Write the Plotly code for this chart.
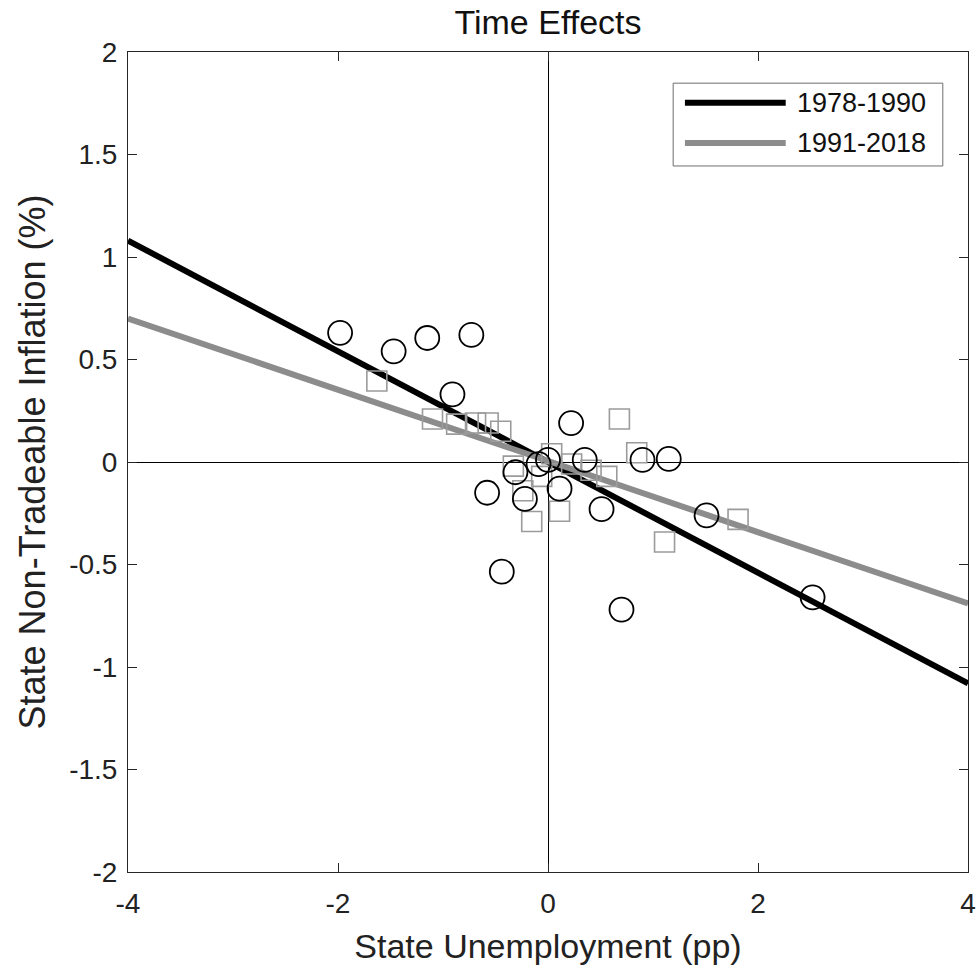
import plotly.graph_objects as go

# --- data ---
x_1978 = [-1.98, -1.47, -1.15, -0.73, -0.91, -0.58, -0.31, -0.22, -0.09, 0.00,
          0.11, 0.22, 0.35, 0.51, 0.90, 1.15, 1.51, 2.52, -0.44, 0.70]
y_1978 = [0.63, 0.54, 0.605, 0.62, 0.33, -0.15, -0.05, -0.18, -0.01, 0.01,
          -0.13, 0.19, 0.01, -0.23, 0.01, 0.015, -0.26, -0.66, -0.535, -0.72]

x_1991 = [-1.63, -1.10, -0.87, -0.69, -0.57, -0.45, -0.33, -0.24, -0.155, -0.06,
          0.035, 0.11, 0.225, 0.41, 0.56, 0.68, 0.845, 1.11, 1.81]
y_1991 = [0.395, 0.21, 0.185, 0.19, 0.19, 0.15, -0.02, -0.14, -0.29, -0.07,
          0.04, -0.24, -0.01, -0.04, -0.07, 0.21, 0.045, -0.39, -0.28]

fit_x = [-4, 4]
fit_y_1978 = [1.08, -1.08]
fit_y_1991 = [0.70, -0.69]

series_names = ["1978-1990", "1991-2018"]
x_ticks = [-4, -2, 0, 2, 4]
x_tick_text = ["-4", "-2", "0", "2", "4"]
y_ticks = [-2, -1.5, -1, -0.5, 0, 0.5, 1, 1.5, 2]
y_tick_text = ["-2", "-1.5", "-1", "-0.5", "0", "0.5", "1", "1.5", "2"]

BLACK = "#000000"
GRAY = "rgb(140,140,140)"
SQ_GRAY = "rgb(155,155,155)"
FONT = "Liberation Sans, Arial, Helvetica, sans-serif"

fig = go.Figure()

fig.add_trace(go.Scatter(x=fit_x, y=fit_y_1978, mode="lines",
                         line=dict(color=BLACK, width=6), name=series_names[0],
                         showlegend=False))
fig.add_trace(go.Scatter(x=fit_x, y=fit_y_1991, mode="lines",
                         line=dict(color=GRAY, width=6), name=series_names[1],
                         showlegend=False))
fig.add_trace(go.Scatter(x=x_1991, y=y_1991, mode="markers",
                         marker=dict(symbol="square-open", size=20,
                                     color=SQ_GRAY, line=dict(width=1.6, color=SQ_GRAY)),
                         showlegend=False))
fig.add_trace(go.Scatter(x=x_1978, y=y_1978, mode="markers",
                         marker=dict(symbol="circle-open", size=24,
                                     color=BLACK, line=dict(width=1.8, color=BLACK)),
                         showlegend=False))

# custom legend (box, line samples, labels)
legend_box = dict(x0=0.649, x1=0.970, y0=0.861, y1=0.962)
fig.add_shape(type="rect", xref="paper", yref="paper", **legend_box,
              line=dict(color="rgb(110,110,110)", width=1), fillcolor="white", layer="above")
fig.add_shape(type="line", xref="paper", yref="paper", x0=0.663, x1=0.783, y0=0.938, y1=0.938,
              line=dict(color=BLACK, width=6), layer="above")
fig.add_shape(type="line", xref="paper", yref="paper", x0=0.663, x1=0.783, y0=0.889, y1=0.889,
              line=dict(color=GRAY, width=6), layer="above")
for name, yy in zip(series_names, [0.938, 0.889]):
    fig.add_annotation(xref="paper", yref="paper", x=0.794, y=yy, text=name,
                       showarrow=False, xanchor="left", yanchor="middle",
                       font=dict(family=FONT, size=27, color="#111111"))

axis_common = dict(
    showgrid=False, zeroline=True, zerolinecolor=BLACK, zerolinewidth=1,
    showline=True, linecolor="rgb(38,38,38)", linewidth=1, mirror="allticks",
    ticks="inside", ticklen=9, tickcolor="rgb(38,38,38)", tickwidth=1,
    tickfont=dict(family=FONT, size=28, color="#222222"),
)

fig.update_xaxes(range=[-4, 4], tickvals=x_ticks, ticktext=x_tick_text, **axis_common,
                 ticklabelstandoff=6,
                 title=dict(text="State Unemployment (pp)",
                            font=dict(family=FONT, size=34, color="#222222"), standoff=16))
fig.update_yaxes(range=[-2, 2], tickvals=y_ticks, ticktext=y_tick_text, **axis_common,
                 ticklabelstandoff=4,
                 title=dict(text="State Non-Tradeable Inflation (%)",
                            font=dict(family=FONT, size=36, color="#222222"), standoff=12))

fig.update_layout(
    width=976, height=971,
    margin=dict(l=128, r=8, t=52, b=99, autoexpand=False),
    paper_bgcolor="white", plot_bgcolor="white",
    title=dict(text="Time Effects", x=(128 + 420) / 976, xanchor="center",
               y=1 - 22 / 971, yanchor="middle",
               font=dict(family=FONT, size=34, color="#111111")),
    showlegend=False,
)

fig.write_html("out.html")
